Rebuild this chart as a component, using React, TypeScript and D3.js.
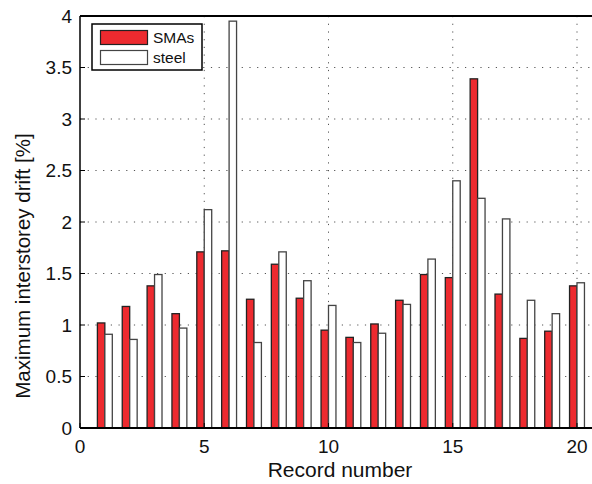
import React from "react";
import * as d3 from "d3";

const records = d3.range(1, 21);
const smas = [1.02, 1.18, 1.38, 1.11, 1.71, 1.72, 1.25, 1.59, 1.26, 0.95, 0.88, 1.01, 1.24, 1.49, 1.46, 3.39, 1.30, 0.87, 0.94, 1.38];
const steel = [0.91, 0.86, 1.49, 0.97, 2.12, 3.95, 0.83, 1.71, 1.43, 1.19, 0.83, 0.92, 1.20, 1.64, 2.40, 2.23, 2.03, 1.24, 1.11, 1.41];
const yTicks = [0, 0.5, 1, 1.5, 2, 2.5, 3, 3.5, 4];
const xTicks = [0, 5, 10, 15, 20];
const seriesNames = ["SMAs", "steel"];

const W = 592, H = 484;
const L = 80, T = 16, B = 428;
const font = "'Liberation Sans', Arial, Helvetica, sans-serif";

export default function App() {
  const x = d3.scaleLinear().domain([0, 21]).range([L, L + 21 * 24.85]);
  const y = d3.scaleLinear().domain([0, 4]).range([B, T]);
  const bw = x(0.3) - x(0);
  const R = W + 20;
  return (
    <svg width={W} height={H} style={{ position: "absolute", left: 0, top: 0, background: "#fff" }}>
      {/* grid */}
      {yTicks.slice(1, -1).map((t) => (
        <line key={"gy" + t} x1={L} x2={R} y1={y(t)} y2={y(t)} stroke="#555" strokeWidth={1} strokeDasharray="1.2 6.5" />
      ))}
      {xTicks.slice(1).map((t) => (
        <line key={"gx" + t} x1={x(t)} x2={x(t)} y1={T} y2={B} stroke="#555" strokeWidth={1} strokeDasharray="1.2 6.5" />
      ))}
      {/* bars */}
      {records.map((r, i) => (
        <g key={r}>
          <rect x={x(r) - bw} y={y(smas[i])} width={bw} height={B - y(smas[i])} fill="#ed2a2f" stroke="#222" strokeWidth={1.3} />
          <rect x={x(r)} y={y(steel[i])} width={bw} height={B - y(steel[i])} fill="#fff" stroke="#444" strokeWidth={1.3} />
        </g>
      ))}
      {/* axes */}
      <line x1={L} x2={R} y1={T} y2={T} stroke="#000" strokeWidth={2} />
      <line x1={L} x2={R} y1={B} y2={B} stroke="#000" strokeWidth={2} />
      <line x1={L} x2={L} y1={T} y2={B} stroke="#000" strokeWidth={1.5} />
      {yTicks.map((t) => (
        <g key={"yt" + t}>
          <line x1={L} x2={L + 5} y1={y(t)} y2={y(t)} stroke="#000" strokeWidth={1} />
          <text x={L - 8} y={y(t) + 6.5} textAnchor="end" fontFamily={font} fontSize={19} fill="#111">{t}</text>
        </g>
      ))}
      {xTicks.map((t) => (
        <g key={"xt" + t}>
          <line x1={x(t)} x2={x(t)} y1={B} y2={B - 5} stroke="#000" strokeWidth={1} />
          <text x={x(t)} y={B + 25} textAnchor="middle" fontFamily={font} fontSize={19} fill="#111">{t}</text>
        </g>
      ))}
      <text x={340} y={477} textAnchor="middle" fontFamily={font} fontSize={21} fill="#111">Record number</text>
      <text transform={`translate(30,266) rotate(-90)`} textAnchor="middle" fontFamily={font} fontSize={20.5} fill="#111">Maximum interstorey drift [%]</text>
      {/* legend */}
      <rect x={92} y={24} width={110} height={46} fill="#fff" stroke="#000" strokeWidth={1.5} />
      <rect x={100.5} y={30.5} width={47} height={14} fill="#ed2a2f" stroke="#222" strokeWidth={1.2} />
      <rect x={100.5} y={50.5} width={47} height={14} fill="#fff" stroke="#444" strokeWidth={1.2} />
      <text x={153} y={43} fontFamily={font} fontSize={15.5} fill="#111">{seriesNames[0]}</text>
      <text x={153} y={63} fontFamily={font} fontSize={15.5} fill="#111">{seriesNames[1]}</text>
    </svg>
  );
}
